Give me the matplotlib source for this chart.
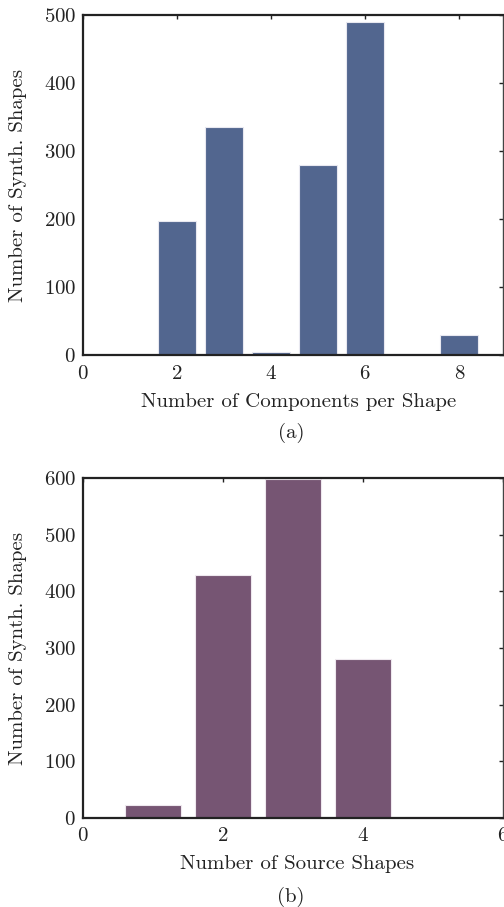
import matplotlib
matplotlib.use("Agg")
import matplotlib.pyplot as plt

plt.rcParams['font.family'] = ['cmr10', 'DejaVu Serif']
plt.rcParams['axes.formatter.use_mathtext'] = True
plt.rcParams['mathtext.fontset'] = 'cm'

# (a) components per shape
comp_x = [1, 2, 3, 4, 5, 6, 7, 8]
comp_counts = [1, 197, 336, 4, 279, 489, 1, 30]
# (b) source shapes
src_x = [1, 2, 3, 4, 5]
src_counts = [22, 429, 598, 280, 2]

col_a = '#52668f'
col_b = '#765573'
txt_col = '#222222'
fs = 15

fig = plt.figure(figsize=(5.04, 9.07), dpi=100)
ax1 = fig.add_axes([83/504, 552/907, 420/504, 340/907])
ax2 = fig.add_axes([83/504, 89.3/907, 420/504, 339.4/907])


def style(ax):
    for s in ['left', 'top', 'bottom']:
        ax.spines[s].set_linewidth(1.6)
        ax.spines[s].set_color(txt_col)
    ax.spines['right'].set_linewidth(1.0)
    ax.spines['right'].set_color('#444444')
    ax.tick_params(axis='both', which='both', direction='in', length=0,
                   labelsize=fs, colors=txt_col)
    ax.tick_params(top=True, right=True, length=3, width=1.0)
    ax.tick_params(left=False, bottom=False)
    ax.tick_params(axis='x', pad=7)
    ax.tick_params(axis='y', pad=5)


ax1.bar(comp_x, comp_counts, width=0.8, color=col_a, edgecolor='#e8e8f0', linewidth=0.8, zorder=2)
ax1.set_xlim(0, 8.93)
ax1.set_ylim(0, 500)
ax1.set_xticks([0, 2, 4, 6, 8])
ax1.set_yticks([0, 100, 200, 300, 400, 500])
style(ax1)

ax2.bar(src_x, src_counts, width=0.8, color=col_b, edgecolor='#eee8ee', linewidth=0.8, zorder=2)
ax2.set_xlim(0, 5.98)
ax2.set_ylim(0, 600)
ax2.set_xticks([0, 2, 4, 6])
ax2.set_yticks([0, 100, 200, 300, 400, 500, 600])
style(ax2)

# axis labels and captions (pixel positions from the top of the figure)
def ftext(x, y, s, **kw):
    fig.text(x/504, 1 - y/907, s, ha='center', va='center', fontsize=fs, color=txt_col, **kw)

ftext(299, 402, 'Number of Components per Shape')
ftext(18, 185, 'Number of Synth. Shapes', rotation=90)
ftext(291, 433, '(a)')

ftext(297, 864, 'Number of Source Shapes')
ftext(18, 648, 'Number of Synth. Shapes', rotation=90)
ftext(291, 897, '(b)')

fig.savefig('out.png', dpi=100)
